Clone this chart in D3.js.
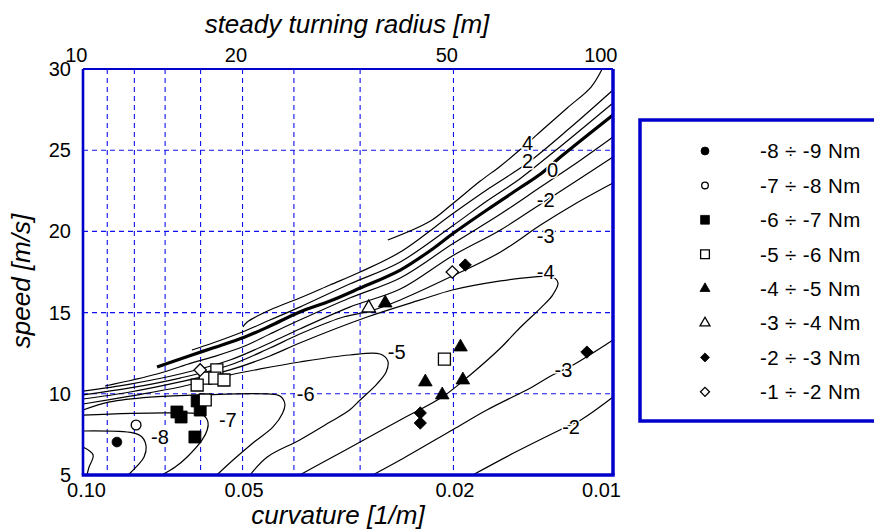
<!DOCTYPE html>
<html>
<head>
<meta charset="utf-8">
<script src="https://cdn.jsdelivr.net/npm/d3@7"></script>
<style>
  html, body { margin: 0; padding: 0; background: #fff; }
  svg { display: block; font-family: Arial, 'Liberation Sans', sans-serif; }
</style>
</head>
<body>
<svg width="874" height="530"></svg>
<script>
'use strict';

/* Axis ticks. */
var curvatureTicks = [0.10, 0.05, 0.02, 0.01];
var radiusTicks = [10, 20, 50, 100];
var speedTicks = [5, 10, 15, 20, 25, 30];
var gridCurvature = [0.09, 0.08, 0.07, 0.06, 0.05, 0.04, 0.03, 0.02];
var gridSpeed = [10, 15, 20, 25];

/* Contour lines, as [curvature 1/m, speed m/s]. */
var contour4 = [[0.0266, 19.47], [0.0221, 20.64], [0.0201, 21.69], [0.0178, 23.10], [0.0163, 24.03], [0.0150, 25.01], [0.0134, 26.43], [0.0122, 27.60], [0.0110, 28.89], [0.0105, 29.95]];
var contour2 = [[0.0499, 14.11], [0.0490, 14.42], [0.0444, 15.16], [0.0390, 15.90], [0.0342, 16.70], [0.0300, 17.50], [0.0252, 18.73], [0.0201, 21.07], [0.0171, 22.67], [0.0145, 24.21], [0.0120, 26.43], [0.0100, 28.71]];
var contour1 = [[0.0623, 12.70], [0.0569, 13.13], [0.0495, 13.87], [0.0444, 14.54], [0.0390, 15.34], [0.0314, 16.76], [0.0252, 18.12], [0.0201, 20.33], [0.0173, 21.87], [0.0150, 23.23], [0.0126, 25.20], [0.0100, 27.91]];
var contour0 = [[0.0725, 11.65], [0.0623, 12.39], [0.0569, 12.82], [0.0495, 13.50], [0.0444, 14.17], [0.0390, 15.04], [0.0342, 15.71], [0.0300, 16.51], [0.0252, 17.62], [0.0219, 18.92], [0.0201, 19.84], [0.0173, 21.32], [0.0150, 22.67], [0.0137, 23.53], [0.0125, 24.64], [0.0100, 27.17]];
var contourM1 = [[0.0909, 10.48], [0.0725, 11.22], [0.0623, 11.90], [0.0569, 12.27], [0.0495, 12.94], [0.0444, 13.68], [0.0390, 14.54], [0.0314, 15.90], [0.0252, 17.13], [0.0201, 19.22], [0.0163, 21.07], [0.0137, 22.73], [0.0115, 24.40], [0.0100, 25.81]];
var contourM2 = [[0.1000, 10.17], [0.0815, 10.60], [0.0656, 11.22], [0.0528, 12.08], [0.0444, 13.13], [0.0390, 13.99], [0.0314, 15.34], [0.0252, 16.45], [0.0201, 18.49], [0.0163, 20.09], [0.0136, 21.75], [0.0115, 23.29], [0.0100, 24.58]];
var contourM3 = [[0.1000, 9.93], [0.0815, 10.36], [0.0656, 10.97], [0.0528, 11.77], [0.0444, 12.82], [0.0390, 13.68], [0.0327, 14.67], [0.0287, 15.10], [0.0252, 15.78], [0.0201, 17.25], [0.0163, 18.73], [0.0137, 20.39], [0.0118, 21.69], [0.0100, 22.98]];
var contourM4 = [[0.1000, 9.68], [0.0815, 10.11], [0.0656, 10.73], [0.0528, 11.47], [0.0444, 12.33], [0.0390, 13.13], [0.0291, 14.73], [0.0231, 15.78], [0.0201, 16.39], [0.0163, 16.95], [0.0142, 17.19], [0.0130, 17.19], [0.0127, 16.82], [0.0130, 16.08], [0.0137, 15.28], [0.0150, 14.05], [0.0163, 12.82], [0.0186, 11.16], [0.0210, 9.80], [0.0252, 8.39], [0.0300, 7.03], [0.0338, 6.11], [0.0390, 5.00]];
var contourM5 = [[0.1000, 9.37], [0.0815, 9.86], [0.0656, 10.42], [0.0528, 11.16], [0.0463, 11.53], [0.0390, 11.96], [0.0314, 12.39], [0.0275, 12.45], [0.0266, 12.02], [0.0268, 11.34], [0.0279, 10.60], [0.0300, 9.62], [0.0314, 9.00], [0.0342, 8.26], [0.0390, 7.16], [0.0449, 6.11], [0.0484, 5.00]];
var contourM6 = [[0.1000, 9.00], [0.0890, 9.50], [0.0747, 9.80], [0.0601, 9.93], [0.0449, 9.99], [0.0425, 9.86], [0.0416, 9.37], [0.0420, 8.82], [0.0438, 7.96], [0.0478, 6.97], [0.0521, 5.92], [0.0559, 5.00]];
var contourM7 = [[0.1000, 8.69], [0.0677, 8.82], [0.0594, 8.69], [0.0581, 8.26], [0.0583, 7.77], [0.0596, 7.16], [0.0636, 6.11], [0.0670, 5.49], [0.0710, 5.00]];
var contourM8 = [[0.1000, 7.71], [0.0805, 7.59], [0.0774, 7.34], [0.0760, 6.72], [0.0767, 6.11], [0.0787, 5.62], [0.0822, 5.00]];
var contourM9 = [[0.1000, 6.72], [0.0957, 6.23], [0.0974, 5.49], [0.0983, 5.00]];
var contourM3Low = [[0.0284, 5.00], [0.0252, 5.92], [0.0201, 7.77], [0.0173, 9.00], [0.0142, 10.42], [0.0130, 11.16], [0.0119, 11.77], [0.0100, 13.31]];
var contourM2Low = [[0.0184, 5.00], [0.0154, 6.35], [0.0126, 7.77], [0.0115, 8.39], [0.0100, 9.80]];

/* Contour labels. */
var labelTexts = ['4', '2', '0', '-2', '-3', '-4', '-5', '-6', '-7', '-8', '-3', '-2'];
var labelCurvature = [0.0145, 0.0145, 0.0130, 0.0134, 0.0134, 0.0134, 0.0256, 0.0380, 0.0533, 0.0716, 0.0124, 0.0120];
var labelSpeed = [25.44, 24.33, 23.78, 21.93, 19.72, 17.50, 12.57, 9.99, 8.39, 7.34, 11.47, 7.96];

/* Measured points, grouped by aligning torque class. */
var torque8to9 = [[0.0863, 7.03]];
var torque7to8 = [[0.0794, 8.08]];
var torque6to7 = [[0.0665, 8.88], [0.0653, 8.57], [0.0609, 9.56], [0.0601, 9.00], [0.0615, 7.34]];
var torque5to6 = [[0.0559, 11.47], [0.0588, 10.97], [0.0564, 10.97], [0.0542, 10.85], [0.0609, 10.54], [0.0588, 9.62], [0.0208, 12.14]];
var torque4to5 = [[0.0269, 15.59], [0.0194, 12.88], [0.0226, 10.73], [0.0192, 10.85], [0.0210, 9.93]];
var torque3to4 = [[0.0289, 15.28]];
var torque2to3 = [[0.0190, 17.93], [0.0231, 8.82], [0.0231, 8.20], [0.0112, 12.57]];
var torque1to2 = [[0.0601, 11.47], [0.0201, 17.50]];

var legendLabels = ['-8 \u00f7 -9 Nm', '-7 \u00f7 -8 Nm', '-6 \u00f7 -7 Nm', '-5 \u00f7 -6 Nm', '-4 \u00f7 -5 Nm', '-3 \u00f7 -4 Nm', '-2 \u00f7 -3 Nm', '-1 \u00f7 -2 Nm'];

/* Build series for drawing. */
var contours = [
  {points: contour4, thick: false}, {points: contour2, thick: false},
  {points: contour1, thick: false}, {points: contour0, thick: true},
  {points: contourM1, thick: false}, {points: contourM2, thick: false},
  {points: contourM3, thick: false}, {points: contourM4, thick: false},
  {points: contourM5, thick: false}, {points: contourM6, thick: false},
  {points: contourM7, thick: false}, {points: contourM8, thick: false},
  {points: contourM9, thick: false}, {points: contourM3Low, thick: false},
  {points: contourM2Low, thick: false}
];

var classes = [
  {points: torque8to9, shape: 'circle', filled: true},
  {points: torque7to8, shape: 'circle', filled: false},
  {points: torque6to7, shape: 'square', filled: true},
  {points: torque5to6, shape: 'square', filled: false},
  {points: torque4to5, shape: 'triangle', filled: true},
  {points: torque3to4, shape: 'triangle', filled: false},
  {points: torque2to3, shape: 'diamond', filled: true},
  {points: torque1to2, shape: 'diamond', filled: false}
];

/* Select the element and define margins. */
var svg = d3.select('svg');
var margin = {top: 69, left: 83};
var width = 530;
var height = 406;
var blue = '#0000cc';

/* Define scales: curvature is reversed, radius is its inverse. */
var x = d3.scaleLog().domain([0.1, 0.01]).range([0, width]);
var radius = d3.scaleLog().domain([10, 100]).range([0, width]);
var y = d3.scaleLinear().domain([5, 30]).range([height, 0]);

var group = svg
  .append('g')
  .attr('transform', 'translate(' + margin.left + ',' + margin.top + ')');

/* Grid. */
group.selectAll('.grid-x')
  .data(gridCurvature)
  .enter()
  .append('line')
  .attr('class', 'grid-x')
  .attr('x1', x).attr('x2', x)
  .attr('y1', 0).attr('y2', height);

group.selectAll('.grid-y')
  .data(gridSpeed)
  .enter()
  .append('line')
  .attr('class', 'grid-y')
  .attr('x1', 0).attr('x2', width)
  .attr('y1', y).attr('y2', y);

group.selectAll('.grid-x, .grid-y')
  .attr('stroke', '#1010ee')
  .attr('stroke-width', 1.1)
  .attr('stroke-dasharray', '5,4');

/* Contours. */
var line = d3.line()
  .x(function (d) { return x(d[0]); })
  .y(function (d) { return y(d[1]); })
  .curve(d3.curveCatmullRom.alpha(0.5));

group.selectAll('.contour')
  .data(contours)
  .enter()
  .append('path')
  .attr('class', 'contour')
  .attr('d', function (d) { return line(d.points); })
  .attr('fill', 'none')
  .attr('stroke', '#000')
  .attr('stroke-width', function (d) { return d.thick ? 3.2 : 1.2; });

/* Contour labels with a white halo that breaks the line. */
group.selectAll('.contour-label')
  .data(labelTexts)
  .enter()
  .append('text')
  .attr('class', 'contour-label')
  .attr('x', function (d, i) { return x(labelCurvature[i]); })
  .attr('y', function (d, i) { return y(labelSpeed[i]); })
  .attr('dy', '0.36em')
  .attr('text-anchor', 'middle')
  .attr('font-size', 20)
  .attr('stroke', '#fff')
  .attr('stroke-width', 3)
  .attr('paint-order', 'stroke')
  .attr('fill', '#000')
  .text(function (d) { return d; });

/* Marker shapes. */
function markerPath(shape, s) {
  if (shape === 'circle') return d3.symbol(d3.symbolCircle, s * s * 0.62)();
  if (shape === 'square') return d3.symbol(d3.symbolSquare, s * s * 0.85)();
  if (shape === 'triangle') return d3.symbol(d3.symbolTriangle, s * s * 0.48)();
  return d3.symbol(d3.symbolSquare, s * s * 0.45)();
}

function drawMarker(sel, c, s) {
  sel
    .attr('d', markerPath(c.shape, s))
    .attr('fill', c.filled ? '#000' : '#fff')
    .attr('stroke', '#000')
    .attr('stroke-width', c.filled ? 0.8 : 1.3);
}

classes.forEach(function (c) {
  var size = c.shape === 'circle' ? 11 : 13;
  group.selectAll(null)
    .data(c.points)
    .enter()
    .append('path')
    .attr('transform', function (d) {
      return 'translate(' + x(d[0]) + ',' + y(d[1]) + ')' + (c.shape === 'diamond' ? ' rotate(45)' : '');
    })
    .call(drawMarker, c, size);
});

/* Axes: text only, frame drawn separately. */
var bottomAxis = group.append('g')
  .attr('transform', 'translate(0,' + height + ')')
  .call(d3.axisBottom(x).tickValues(curvatureTicks).tickFormat(d3.format('.2f')).tickSize(0).tickPadding(8));

bottomAxis.selectAll('text')
  .attr('dx', function (d, i) { return i === curvatureTicks.length - 1 ? -12 : (i === 0 ? 3 : 1); });

var topAxis = group.append('g')
  .call(d3.axisTop(radius).tickValues(radiusTicks).tickFormat(d3.format('d')).tickSize(0).tickPadding(7));

topAxis.selectAll('text')
  .attr('text-anchor', 'end')
  .attr('dx', 4);

var leftAxis = group.append('g')
  .call(d3.axisLeft(y).tickValues(speedTicks).tickSize(0).tickPadding(12));

group.selectAll('.domain').remove();
group.selectAll('.tick text')
  .attr('font-size', 20)
  .attr('font-family', 'Arial, Liberation Sans, sans-serif')
  .attr('fill', '#000');

/* Plot frame: heavier on the bottom and right. */
var frame = [
  {x1: 0, y1: 0, x2: width, y2: 0, w: 2.2},
  {x1: 0, y1: 0, x2: 0, y2: height, w: 2.6},
  {x1: -1.3, y1: height, x2: width + 1.7, y2: height, w: 3.5},
  {x1: width, y1: 0, x2: width, y2: height, w: 3.5}
];

group.selectAll('.frame')
  .data(frame)
  .enter()
  .append('line')
  .attr('class', 'frame')
  .attr('x1', function (d) { return d.x1; })
  .attr('y1', function (d) { return d.y1; })
  .attr('x2', function (d) { return d.x2; })
  .attr('y2', function (d) { return d.y2; })
  .attr('stroke', blue)
  .attr('stroke-width', function (d) { return d.w; });

/* Axis titles. */
svg.append('text')
  .attr('x', 347).attr('y', 33)
  .attr('text-anchor', 'middle')
  .attr('font-size', 26)
  .attr('font-style', 'italic')
  .text('steady turning radius [m]');

svg.append('text')
  .attr('x', 338).attr('y', 524)
  .attr('text-anchor', 'middle')
  .attr('font-size', 26)
  .attr('font-style', 'italic')
  .text('curvature [1/m]');

svg.append('text')
  .attr('transform', 'translate(30,281) rotate(-90)')
  .attr('text-anchor', 'middle')
  .attr('font-size', 26)
  .attr('font-style', 'italic')
  .text('speed [m/s]');

/* Legend. */
var legend = svg.append('g');

legend.append('rect')
  .attr('x', 640).attr('y', 120)
  .attr('width', 300).attr('height', 301)
  .attr('fill', '#fff')
  .attr('stroke', blue)
  .attr('stroke-width', 3.5);

var rows = legend.selectAll('.row')
  .data(classes)
  .enter()
  .append('g')
  .attr('class', 'row')
  .attr('transform', function (d, i) { return 'translate(0,' + (151 + i * 34.4) + ')'; });

rows.append('path')
  .attr('transform', function (d) { return 'translate(705,0)' + (d.shape === 'diamond' ? ' rotate(45)' : ''); })
  .each(function (d) {
    var s = d.shape === 'circle' ? (d.filled ? 9 : 7.5) : 9.5;
    d3.select(this).call(drawMarker, d, s);
  });

rows.append('text')
  .attr('x', 760)
  .attr('dy', '0.36em')
  .attr('font-size', 20.5)
  .attr('letter-spacing', 0.4)
  .text(function (d, i) { return legendLabels[i]; });
</script>
</body>
</html>
